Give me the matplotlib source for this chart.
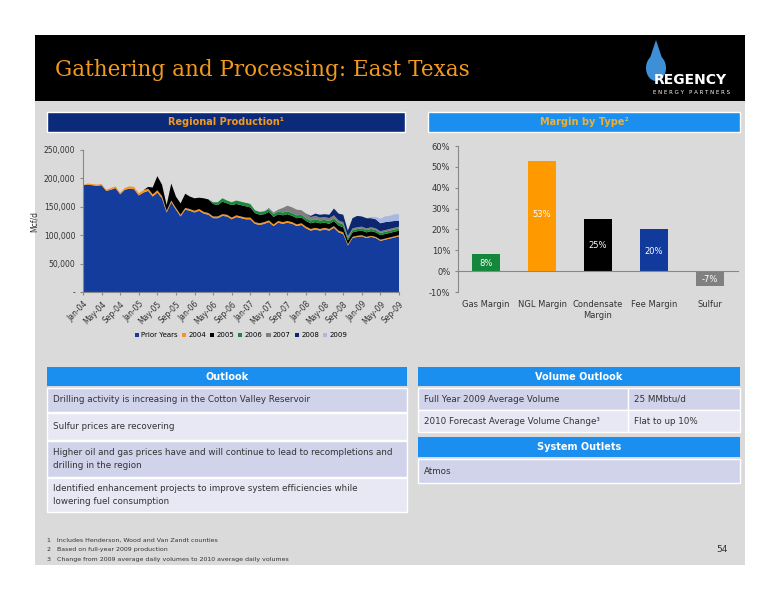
import matplotlib
matplotlib.use("Agg")
import matplotlib.pyplot as plt
import matplotlib.patches as mp
import numpy as np

W, H = 776, 600
months = [f"{m}-{y:02d}" for y in range(4, 10) for m in
          ["Jan","Feb","Mar","Apr","May","Jun","Jul","Aug","Sep","Oct","Nov","Dec"]][:69]
prior = [188,189,188,187,188,178,180,183,172,180,182,181,
         170,175,178,168,175,165,140,158,145,133,145,143,
         140,143,138,136,130,130,134,133,128,132,130,128,
         128,120,118,120,123,116,122,120,122,120,116,118,
         112,108,110,108,110,108,113,105,102,82,95,97,
         98,95,97,95,90,92,94,96,98]
y2004 = [0,2,2,2,2,2,3,3,3,3,4,4, 4,4,4,4,4,4,3,3,3,3,3,3, 3,3,3,3,3,3,3,3,3,3,3,3,
         3,3,3,3,3,3,3,3,3,3,3,3, 3,3,3,3,3,3,3,3,3,2,2,2, 2,2,2,2,2,2,2,2,2]
y2005 = [0]*12 + [0,0,3,12,25,20,10,30,20,20,25,22,
         22,20,24,24,22,20,22,20,22,20,20,20,
         18,16,15,14,15,13,12,12,12,11,11,10,
         10,10,10,10,9,9,9,9,9,7,8,8, 8,8,8,8,8,8,8,8,8]
y2006 = [0]*24 + [0,0,0,0,3,5,6,5,5,6,6,6, 6,5,5,5,5,5,5,5,5,5,5,5,
         5,5,5,5,5,5,5,5,5,4,4,4, 4,4,4,4,4,4,4,4,4]
y2007 = [0]*36 + [0,0,0,0,2,3,3,8,10,10,10,8, 8,6,6,5,5,5,5,4,4,3,3,3,
         3,3,3,3,3,3,3,3,3]
y2008 = [0]*48 + [0,2,4,5,5,6,12,12,13,10,18,20, 18,18,16,16,14,14,13,12,10]
y2009 = [0]*60 + [0,0,2,4,8,10,10,12,12]

types = ["Gas Margin", "NGL Margin", "Condensate\nMargin", "Fee Margin", "Sulfur"]
margins = [8, 53, 25, 20, -7]

fig = plt.figure(figsize=(W/100, H/100), dpi=100)
fig.patch.set_facecolor("white")

def rect(x, y, w, h):
    return [x/W, 1-(y+h)/H, w/W, h/H]

def box(x, y, w, h, color, **kw):
    fig.patches.append(mp.Rectangle((x/W, 1-(y+h)/H), w/W, h/H, transform=fig.transFigure,
                                    facecolor=color, edgecolor=kw.get("ec", "none"),
                                    linewidth=kw.get("lw", 0), zorder=kw.get("z", -10)))

def txt(x, y, s, **kw):
    fig.text(x/W, 1-y/H, s, **kw)

# background panels
box(35, 35, 710, 530, "#dadada", z=-20)
box(35, 35, 710, 66, "#000000", z=-15)
txt(55, 70, "Gathering and Processing: East Texas", family="DejaVu Serif", fontsize=15.5,
    color="#f39a1e", va="center")
# logo
fig.patches.append(mp.Ellipse((656/W, 1-68/H), 20/W, 26/H, transform=fig.transFigure,
                              facecolor="#3f8fd6", zorder=-5))
fig.patches.append(mp.Polygon([(648/W, 1-64/H), (656/W, 1-40/H), (664/W, 1-64/H)],
                              transform=fig.transFigure, facecolor="#3f8fd6", zorder=-5))
txt(690, 80, "REGENCY", color="white", fontsize=10, weight="bold", ha="center", va="center")
txt(692, 92, "E N E R G Y   P A R T N E R S", color="white", fontsize=4, ha="center", va="center")

# section headers
box(47, 112, 358, 20, "#0b2a7a", ec="white", lw=1)
txt(226, 122, "Regional Production¹", color="#f39a1e", fontsize=7, weight="bold", ha="center", va="center")
box(428, 112, 312, 20, "#1a8ff0", ec="white", lw=1)
txt(584, 122, "Margin by Type²", color="#f0b030", fontsize=7, weight="bold", ha="center", va="center")

# area chart
ax = fig.add_axes(rect(83, 150, 316, 142))
ax.set_facecolor("#dadada")
x = np.arange(len(months))
colors = ["#143c9c", "#f7941d", "#000000", "#1a8a3a", "#7f7f7f", "#0d2670", "#a8b8e0"]
labels = ["Prior Years", "2004", "2005", "2006", "2007", "2008", "2009"]
ax.stackplot(x, np.array(prior)*1000, np.array(y2004)*1000, np.array(y2005)*1000,
             np.array(y2006)*1000, np.array(y2007)*1000, np.array(y2008)*1000,
             np.array(y2009)*1000, colors=colors, labels=labels)
ax.set_xlim(0, len(months)-1)
ax.set_ylim(0, 250000)
ax.set_yticks([0, 50000, 100000, 150000, 200000, 250000])
ax.set_yticklabels(["-", "50,000", "100,000", "150,000", "200,000", "250,000"], fontsize=5.5, color="#333")
ax.set_xticks(x[::4])
ax.set_xticklabels(months[::4], rotation=45, ha="right", fontsize=5.5, color="#333", rotation_mode="anchor")
ax.set_ylabel("Mcf/d", fontsize=5.5, color="#333", labelpad=4)
for s in ["top", "right"]:
    ax.spines[s].set_visible(False)
ax.spines["left"].set_color("#888"); ax.spines["bottom"].set_color("#888")
ax.tick_params(length=2, colors="#888", labelcolor="#333")
ax.legend(loc="upper center", bbox_to_anchor=(0.5, -0.24), ncol=7, fontsize=5, frameon=False,
          handlelength=0.6, handleheight=0.6, columnspacing=0.6, handletextpad=0.3)

# bar chart
bx = fig.add_axes(rect(458, 146, 280, 146))
bx.set_facecolor("#dadada")
bcolors = ["#14873c", "#ff9900", "#000000", "#123a9c", "#808080"]
bx.bar(range(len(types)), margins, width=0.5, color=bcolors)
label_y = [3.5, 27, 12.5, 9.5, -4]
for i, v in enumerate(margins):
    bx.text(i, label_y[i], f"{v}%", ha="center", va="center", color="white", fontsize=6)
bx.set_ylim(-10, 60)
bx.set_xlim(-0.5, 4.5)
bx.set_yticks(range(-10, 61, 10))
bx.set_yticklabels([f"{v}%" for v in range(-10, 61, 10)])
bx.set_xticks(range(len(types)))
bx.set_xticklabels(types, va="top")
bx.spines["bottom"].set_position(("data", 0))
for s in ["top", "right"]:
    bx.spines[s].set_visible(False)
bx.spines["left"].set_color("#888"); bx.spines["bottom"].set_color("#888")
bx.tick_params(axis="x", length=0, pad=21, labelsize=6, labelcolor="#333")
bx.tick_params(axis="y", length=2, colors="#888", labelcolor="#333", labelsize=6)

# Outlook table
box(47, 367, 360, 19, "#1a8ff0")
txt(227, 376.5, "Outlook", color="white", fontsize=7, weight="bold", ha="center", va="center")
rows = [(388, 24, "Drilling activity is increasing in the Cotton Valley Reservoir"),
        (413, 27, "Sulfur prices are recovering"),
        (441, 36, "Higher oil and gas prices have and will continue to lead to recompletions and\ndrilling in the region"),
        (478, 34, "Identified enhancement projects to improve system efficiencies while\nlowering fuel consumption")]
for i, (y, h, s) in enumerate(rows):
    box(47, y, 360, h, "#d0d3ea" if i % 2 == 0 else "#e7e8f3", ec="white", lw=1)
    txt(53, y + h/2, s, fontsize=6.3, color="#333", va="center", linespacing=1.5)

# Volume outlook
box(418, 367, 322, 19, "#1a8ff0")
txt(579, 376.5, "Volume Outlook", color="white", fontsize=7, weight="bold", ha="center", va="center")
vrows = [(388, "Full Year 2009 Average Volume", "25 MMbtu/d"),
         (410, "2010 Forecast Average Volume Change³", "Flat to up 10%")]
for i, (y, a, b) in enumerate(vrows):
    c = "#d0d3ea" if i == 0 else "#e7e8f3"
    box(418, y, 210, 22, c, ec="white", lw=1)
    box(628, y, 112, 22, c, ec="white", lw=1)
    txt(424, y + 11, a, fontsize=6.3, color="#333", va="center")
    txt(634, y + 11, b, fontsize=6.3, color="#333", va="center")
box(418, 437, 322, 20, "#1a8ff0")
txt(579, 447, "System Outlets", color="white", fontsize=7, weight="bold", ha="center", va="center")
box(418, 459, 322, 24, "#d0d3ea", ec="white", lw=1)
txt(424, 471, "Atmos", fontsize=6.3, color="#333", va="center")

# footnotes
txt(47, 540, "1   Includes Henderson, Wood and Van Zandt counties", fontsize=4.5, color="#333", va="center")
txt(47, 550, "2   Based on full-year 2009 production", fontsize=4.5, color="#333", va="center")
txt(47, 560, "3   Change from 2009 average daily volumes to 2010 average daily volumes", fontsize=4.5, color="#333", va="center")
txt(728, 549, "54", fontsize=6.5, color="#333", ha="right", va="center")

fig.savefig("out.png", dpi=100)
